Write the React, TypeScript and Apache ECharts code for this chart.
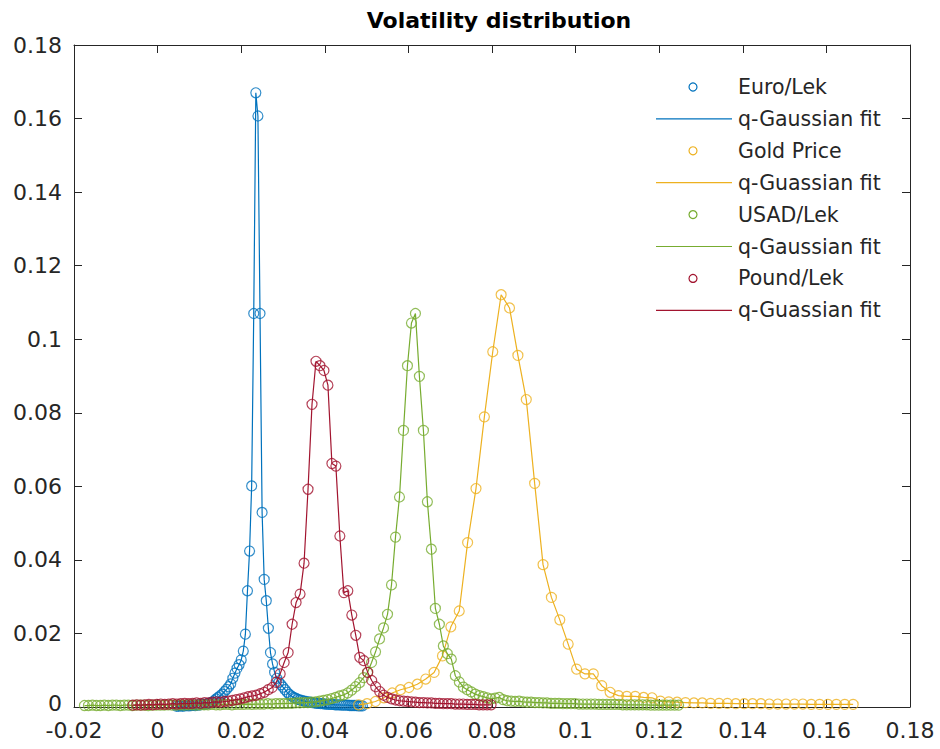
import React, { useEffect, useRef } from "react";
import * as echarts from "echarts";

// Axis ticks
const X_MIN = -0.02;
const X_MAX = 0.18;
const X_STEP = 0.02;
const Y_MIN = 0;
const Y_MAX = 0.18;
const Y_STEP = 0.02;
const xTickLabels = ["-0.02", "0", "0.02", "0.04", "0.06", "0.08", "0.1", "0.12", "0.14", "0.16", "0.18"];
const yTickLabels = ["0", "0.02", "0.04", "0.06", "0.08", "0.1", "0.12", "0.14", "0.16", "0.18"];

// Histogram bins: first bin centre and bin width per series
const euroBinStart = 0.0045;
const euroBinWidth = 0.0005;
const euroValues = [
  0.0002, 0.0002, 0.0003, 0.0002, 0.0003, 0.0004, 0.0003, 0.0004, 0.0005, 0.0004,
  0.0006, 0.0005, 0.0007, 0.0008, 0.0007, 0.0009, 0.0011, 0.0013,
  0.0017, 0.0022, 0.0026, 0.0031, 0.0035, 0.0042, 0.0048, 0.0055, 0.0063, 0.0078,
  0.0092, 0.0105, 0.0115, 0.0128, 0.0152, 0.0198, 0.0316, 0.0424, 0.0601,
  0.107, 0.167, 0.1607, 0.107, 0.0529, 0.0347, 0.0289, 0.0214, 0.0148, 0.0117,
  0.0094, 0.0078, 0.0067, 0.0061, 0.0054, 0.0047, 0.004, 0.0034, 0.003, 0.0026,
  0.0024, 0.0021, 0.0019, 0.0018, 0.0016, 0.0015, 0.0014, 0.0013, 0.0012, 0.0011,
  0.001, 0.001, 0.0009, 0.0009, 0.0008, 0.0008, 0.0007, 0.0007, 0.0007, 0.0006,
  0.0006, 0.0006, 0.0005, 0.0005, 0.0005, 0.0005, 0.0004, 0.0004, 0.0004, 0.0004,
  0.0003, 0.0003, 0.0003,
];

const goldBinStart = 0.0481;
const goldBinWidth = 0.002005;
const goldValues = [
  0.0006, 0.0009, 0.0015, 0.0025, 0.0038, 0.0047, 0.0053, 0.0062, 0.0076, 0.0094,
  0.0139, 0.0218, 0.0261, 0.0447, 0.0594, 0.0789, 0.0966,
  0.1121, 0.1085, 0.0956, 0.0836, 0.0608, 0.0387, 0.0298, 0.0237, 0.0171, 0.0103,
  0.009, 0.009, 0.0058, 0.004, 0.0031, 0.0029, 0.0029, 0.0026, 0.0025, 0.0016,
  0.0014, 0.0013, 0.0012,
  0.0011, 0.0011, 0.001, 0.001, 0.001, 0.0009, 0.0009, 0.0009, 0.0009, 0.0008,
  0.0008, 0.0008, 0.0008, 0.0008, 0.0007, 0.0007, 0.0007, 0.0007, 0.0007, 0.0007,
];

const usdBinStart = -0.0175;
const usdBinWidth = 0.000954;
const usdValues = [
  0.0004, 0.0004, 0.0005, 0.0004, 0.0004, 0.0005, 0.0004, 0.0005, 0.0005, 0.0004,
  0.0005, 0.0005, 0.0004, 0.0005, 0.0005, 0.0005, 0.0004, 0.0005, 0.0005, 0.0005,
  0.0005, 0.0006, 0.0005, 0.0005, 0.0006, 0.0005, 0.0006, 0.0006, 0.0005, 0.0006,
  0.0006, 0.0006, 0.0007, 0.0006, 0.0006, 0.0007, 0.0007, 0.0006, 0.0007, 0.0007,
  0.0007, 0.0008, 0.0007, 0.0008, 0.0008, 0.0008, 0.0009, 0.0008, 0.0009, 0.0009,
  0.0009, 0.001, 0.001, 0.0011, 0.0011, 0.0012, 0.0012, 0.0013,
  0.0014, 0.0016, 0.0018, 0.002, 0.0023, 0.0026, 0.003, 0.0033, 0.0038, 0.0046,
  0.0055, 0.0066, 0.008, 0.0094, 0.0121, 0.015, 0.0185, 0.0215, 0.0252, 0.0332,
  0.0462, 0.0571, 0.0752, 0.0928, 0.1044,
  0.107,
  0.0899, 0.0752, 0.0558, 0.0429, 0.0268, 0.0225, 0.0166, 0.0145, 0.013, 0.0085,
  0.0068, 0.0054, 0.0047, 0.0041, 0.0035, 0.0031,
  0.0028, 0.0025, 0.0022, 0.0024, 0.0026, 0.002, 0.0017, 0.0016, 0.0015, 0.0016,
  0.0014, 0.0013, 0.0013, 0.0012, 0.0012, 0.0011, 0.0011, 0.001, 0.001, 0.001,
  0.0009, 0.0009, 0.0009, 0.0009, 0.0008, 0.0008, 0.0008, 0.0008, 0.0008, 0.0007,
  0.0007, 0.0007, 0.0007, 0.0007, 0.0007, 0.0006, 0.0006, 0.0006, 0.0006, 0.0006,
  0.0006, 0.0006, 0.0005, 0.0005, 0.0005, 0.0005, 0.0005, 0.0005, 0.0005, 0.0005,
];

const poundBinStart = -0.0059;
const poundBinWidth = 0.000952;
const poundValues = [
  0.0005, 0.0006, 0.0005, 0.0006, 0.0007, 0.0006, 0.0007, 0.0008, 0.0007, 0.0008,
  0.0009, 0.0008, 0.0009, 0.001, 0.0009, 0.001, 0.0011, 0.001, 0.0012, 0.0011,
  0.0013, 0.0014, 0.0013, 0.0015, 0.0016, 0.0018, 0.002,
  0.0022, 0.0025, 0.0028, 0.003, 0.0032, 0.0036, 0.004, 0.0047, 0.0053, 0.0067,
  0.009, 0.0121, 0.0148, 0.0225, 0.0284, 0.0307, 0.0391, 0.0592, 0.0823,
  0.094, 0.0928, 0.0915, 0.0875, 0.0662, 0.0655, 0.0465, 0.0311, 0.0316, 0.025,
  0.0195, 0.0135, 0.0126, 0.0094, 0.0072, 0.0055, 0.0042, 0.0032, 0.0026, 0.0022,
  0.0019, 0.0017, 0.0016, 0.0015, 0.0014, 0.0013, 0.0012, 0.0012, 0.0011, 0.0011,
  0.001, 0.001, 0.0009, 0.0009, 0.0009, 0.0008, 0.0008, 0.0008, 0.0007, 0.0007,
  0.0007, 0.0006, 0.0006, 0.0006, 0.0006,
];

const seriesNames = ["Euro/Lek", "Gold Price", "USAD/Lek", "Pound/Lek"];
const fitNames = ["q-Gaussian fit", "q-Guassian fit", "q-Gaussian fit", "q-Guassian fit"];
const seriesColors = ["#0072BD", "#EDB120", "#77AC30", "#A2142F"];

const TEXT_COLOR = "#262626";
const FONT = '"DejaVu Sans", Verdana, sans-serif';
const TICK_FONT_SIZE = 22;

function binned(start: number, width: number, values: number[]): number[][] {
  return values.map((v, i) => [Number((start + width * i).toFixed(6)), v]);
}

export default function App() {
  const ref = useRef<HTMLDivElement>(null);

  useEffect(() => {
    if (!ref.current) return;
    const chart = echarts.init(ref.current, undefined, { renderer: "svg" });

    const groups = [
      binned(euroBinStart, euroBinWidth, euroValues),
      binned(goldBinStart, goldBinWidth, goldValues),
      binned(usdBinStart, usdBinWidth, usdValues),
      binned(poundBinStart, poundBinWidth, poundValues),
    ];

    const series: any[] = [];
    groups.forEach((data, k) => {
      series.push({
        type: "scatter",
        name: seriesNames[k],
        data,
        symbol: "circle",
        symbolSize: 10,
        clip: false,
        itemStyle: { color: "rgba(0,0,0,0)", borderColor: seriesColors[k], borderWidth: 1.2 },
        emphasis: { disabled: true },
        z: 2 + k * 2,
      });
      series.push({
        type: "line",
        name: fitNames[k] + " " + (k + 1),
        data,
        showSymbol: false,
        symbol: "none",
        lineStyle: { color: seriesColors[k], width: 1.2 },
        emphasis: { disabled: true },
        z: 3 + k * 2,
      });
    });

    const axisLine = { show: true, onZero: false, lineStyle: { color: TEXT_COLOR, width: 1 } };
    const tick = { show: true, inside: true, length: 8, lineStyle: { color: TEXT_COLOR, width: 1 } };
    const xFmt = (v: number) => xTickLabels[Math.round((v - X_MIN) / X_STEP)] ?? "";
    // the "0" at the origin sits slightly raised so it clears the "-0.02" below it
    const yFmt = (v: number) => {
      const idx = Math.round((v - Y_MIN) / Y_STEP);
      const label = yTickLabels[idx] ?? "";
      return idx === 0 ? `{origin|${label}}` : label;
    };

    const legendX0 = 656;
    const legendRowY0 = 87;
    const legendRowGap = 31.9;
    const legendItems: any[] = [];
    seriesNames.forEach((name, k) => {
      const yData = legendRowY0 + legendRowGap * (2 * k);
      const yFit = legendRowY0 + legendRowGap * (2 * k + 1);
      legendItems.push({
        type: "circle",
        shape: { cx: legendX0 + 37, cy: yData, r: 4 },
        style: { fill: "none", stroke: seriesColors[k], lineWidth: 1.2 },
      });
      legendItems.push({
        type: "text",
        x: legendX0 + 82,
        y: yData,
        style: { text: name, fill: TEXT_COLOR, font: `20.5px ${FONT}`, align: "left", verticalAlign: "middle" },
      });
      legendItems.push({
        type: "line",
        shape: { x1: legendX0, y1: yFit, x2: legendX0 + 76, y2: yFit },
        style: { stroke: seriesColors[k], lineWidth: 1.2 },
      });
      legendItems.push({
        type: "text",
        x: legendX0 + 82,
        y: yFit,
        style: { text: fitNames[k], fill: TEXT_COLOR, font: `20.5px ${FONT}`, align: "left", verticalAlign: "middle" },
      });
    });

    chart.setOption({
      animation: false,
      backgroundColor: "#ffffff",
      grid: { left: 74, right: 30, top: 45, bottom: 42, containLabel: false, outerBoundsMode: "none" },
      xAxis: [
        {
          type: "value",
          min: X_MIN,
          max: X_MAX,
          interval: X_STEP,
          position: "bottom",
          axisLine,
          axisTick: tick,
          splitLine: { show: false },
          axisLabel: {
            color: TEXT_COLOR,
            fontSize: TICK_FONT_SIZE,
            lineHeight: 18,
            fontFamily: FONT,
            margin: 14,
            formatter: xFmt,
          },
        },
        {
          type: "value",
          min: X_MIN,
          max: X_MAX,
          interval: X_STEP,
          position: "top",
          axisLine,
          axisTick: tick,
          splitLine: { show: false },
          axisLabel: { show: false },
        },
      ],
      yAxis: [
        {
          type: "value",
          min: Y_MIN,
          max: Y_MAX,
          interval: Y_STEP,
          position: "left",
          axisLine,
          axisTick: tick,
          splitLine: { show: false },
          axisLabel: {
            color: TEXT_COLOR,
            fontSize: TICK_FONT_SIZE,
            lineHeight: 18,
            fontFamily: FONT,
            margin: 12,
            formatter: yFmt,
            rich: {
              origin: {
                color: TEXT_COLOR,
                fontSize: TICK_FONT_SIZE,
                fontFamily: FONT,
                lineHeight: 18,
                padding: [0, 0, 7, 0],
              },
            },
          },
        },
        {
          type: "value",
          min: Y_MIN,
          max: Y_MAX,
          interval: Y_STEP,
          position: "right",
          axisLine,
          axisTick: tick,
          splitLine: { show: false },
          axisLabel: { show: false },
        },
      ],
      graphic: [
        {
          type: "text",
          x: 499,
          y: 20,
          style: {
            text: "Volatility distribution",
            fill: "#000000",
            font: `bold 22px ${FONT}`,
            align: "center",
            verticalAlign: "middle",
          },
        },
        ...legendItems,
      ],
      series,
    });

    return () => chart.dispose();
  }, []);

  return <div ref={ref} style={{ position: "absolute", left: 0, top: 0, width: 940, height: 749 }} />;
}
